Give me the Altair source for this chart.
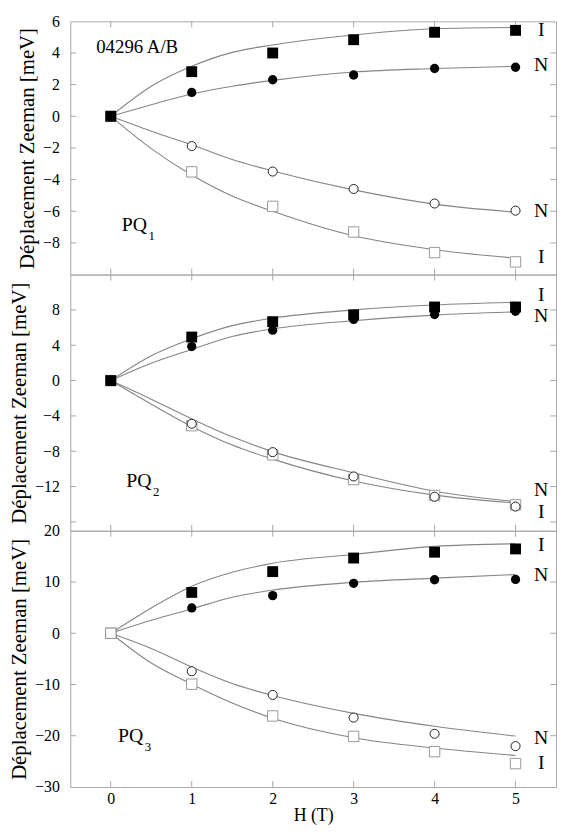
import altair as alt
import pandas as pd

# ---------------- data ----------------
H_POINTS = [0, 1, 2, 3, 4, 5]
H_FIT = [0, 0.5, 1, 1.5, 2, 3, 4, 5]

# PQ1
PQ1_I_UP = [0, 2.82, 4.0, 4.84, 5.31, 5.43]
PQ1_N_UP = [0, 1.51, 2.31, 2.61, 3.02, 3.1]
PQ1_N_DOWN = [0, -1.88, -3.49, -4.59, -5.51, -5.96]
PQ1_I_DOWN = [0, -3.51, -5.69, -7.31, -8.61, -9.2]
PQ1_FIT_I_UP = [0, 1.9, 3.16, 4.04, 4.51, 5.14, 5.53, 5.61]
PQ1_FIT_N_UP = [0, 0.73, 1.41, 1.9, 2.27, 2.8, 3.02, 3.16]
PQ1_FIT_N_DOWN = [0, -0.94, -1.8, -2.73, -3.45, -4.65, -5.55, -6.06]
PQ1_FIT_I_DOWN = [0, -2.04, -3.71, -5.04, -6.0, -7.55, -8.43, -8.96]

# PQ2
PQ2_I_UP = [0, 4.93, 6.67, 7.44, 8.33, 8.33]
PQ2_N_UP = [0, 3.85, 5.7, 6.93, 7.48, 7.85]
PQ2_N_DOWN = [0, -4.89, -8.1, -10.85, -13.15, -14.26]
PQ2_I_DOWN = [0, -5.1, -8.4, -11.2, -13.0, -14.07]
PQ2_FIT_I_UP = [0, 2.81, 4.74, 6.22, 7.07, 8.0, 8.56, 8.85]
PQ2_FIT_N_UP = [0, 1.96, 3.52, 5.0, 5.85, 6.78, 7.41, 7.78]
PQ2_FIT_N_DOWN = [0, -2.11, -4.33, -6.37, -8.04, -10.44, -12.52, -13.7]
PQ2_FIT_I_DOWN = [0, -2.67, -5.19, -7.3, -8.89, -11.37, -12.96, -13.85]

# PQ3
PQ3_I_UP = [0, 7.97, 12.03, 14.68, 15.82, 16.46]
PQ3_N_UP = [0, 4.94, 7.34, 9.75, 10.44, 10.5]
PQ3_N_DOWN = [0, -7.41, -12.03, -16.46, -19.62, -22.03]
PQ3_I_DOWN = [0, -9.94, -16.14, -20.13, -23.1, -25.44]
PQ3_FIT_I_UP = [0, 4.94, 9.18, 11.9, 13.67, 15.38, 16.96, 17.47]
PQ3_FIT_N_UP = [0, 2.53, 4.75, 7.03, 8.42, 9.94, 10.76, 11.46]
PQ3_FIT_N_DOWN = [0, -2.97, -6.58, -9.81, -12.15, -15.63, -18.16, -20.06]
PQ3_FIT_I_DOWN = [0, -5.82, -9.94, -13.6, -16.58, -20.38, -22.4, -23.86]

# axes
X_DOMAIN = [-0.5, 5.5]
X_TICKS = [0, 1, 2, 3, 4, 5]
Y_DOMAINS = [[-10, 6], [-17, 12], [-30, 20]]
Y_LABELS = [[-8, -6, -4, -2, 0, 2, 4, 6], [-12, -8, -4, 0, 4, 8], [-30, -20, -10, 0, 10, 20]]
Y_TICKS = [[-8, -6, -4, -2, 0, 2, 4], [-16, -12, -8, -4, 0, 4, 8], [-20, -10, 0, 10]]

# side labels (text, value)
SIDE_TEXT = ["I", "N", "N", "I"]
SIDE_Y = [[5.43, 3.23, -5.96, -8.92], [9.71, 7.31, -12.44, -14.84], [17.3, 11.26, -20.4, -25.4]]

PANEL_NAMES = ["PQ", "PQ", "PQ"]
PANEL_SUBS = ["1", "2", "3"]
PANEL_LABEL_X = [0.135, 0.19, 0.09]
PANEL_LABEL_Y = [-6.86, -11.33, -20.07]
SAMPLE_TEXT = "04296 A/B"
SAMPLE_X = -0.18
SAMPLE_Y = 4.39

Y_TITLE = "Déplacement Zeeman [meV]"
X_TITLE = "H (T)"

FONT = "Times New Roman, Liberation Serif, serif"
W = 491
HEIGHTS = [256, 259, 259]
TICK_LEN = 6
FRAME = "#a8a8a8"
LINE = "#858585"


def make_panel(i, i_up, n_up, n_down, i_down, fits, bottom, order):
    h = HEIGHTS[i]
    xs = alt.Scale(domain=X_DOMAIN, nice=False, zero=False)
    ys = alt.Scale(domain=Y_DOMAINS[i], nice=False, zero=False)
    yaxis = alt.Axis(values=Y_LABELS[i], title=Y_TITLE, grid=False, ticks=False, domain=False,
                     labelFont=FONT, labelFontSize=16, labelColor="black", labelPadding=11,
                     titleFont=FONT, titleFontSize=21, titleFontWeight="normal",
                     titleColor="black", titlePadding=5, format="d")
    if bottom:
        xaxis = alt.Axis(values=X_TICKS, title=X_TITLE, grid=False, ticks=False, domain=False,
                         labelFont=FONT, labelFontSize=16, labelColor="black", labelPadding=4,
                         titleFont=FONT, titleFontSize=18, titleFontWeight="normal",
                         titleColor="black", titlePadding=0)
    else:
        xaxis = None

    def X():
        return alt.X("x:Q", scale=xs, axis=xaxis)

    def Y():
        return alt.Y("y:Q", scale=ys, axis=yaxis)

    layers = []
    ytick_df = pd.DataFrame({"x": [0] * len(Y_TICKS[i]), "y": Y_TICKS[i]})
    xtick_df = pd.DataFrame({"x": X_TICKS, "y": [Y_DOMAINS[i][0]] * len(X_TICKS)})
    layers.append(alt.Chart(ytick_df).mark_rule(color=FRAME, strokeWidth=1).encode(
        y=Y(), x=alt.value(0), x2=alt.value(TICK_LEN)))
    layers.append(alt.Chart(ytick_df).mark_rule(color=FRAME, strokeWidth=1).encode(
        y=Y(), x=alt.value(W - TICK_LEN), x2=alt.value(W)))
    layers.append(alt.Chart(xtick_df).mark_rule(color=FRAME, strokeWidth=1).encode(
        x=X(), y=alt.value(0), y2=alt.value(TICK_LEN)))
    layers.append(alt.Chart(xtick_df).mark_rule(color=FRAME, strokeWidth=1).encode(
        x=X(), y=alt.value(h - TICK_LEN), y2=alt.value(h)))

    # fit lines
    for f in fits:
        df = pd.DataFrame({"x": H_FIT, "y": f})
        layers.append(alt.Chart(df).mark_line(color=LINE, strokeWidth=1.1, interpolate="monotone").encode(
            x=X(), y=Y()))

    marks = {
        "I_up": (i_up, dict(shape="square", filled=True, size=121, color="black", opacity=1)),
        "N_up": (n_up, dict(shape="circle", filled=True, size=88, color="black", opacity=1)),
        "N_down": (n_down, dict(shape="circle", filled=True, size=84, fill="white", stroke="#222",
                                strokeWidth=1, opacity=1)),
        "I_down": (i_down, dict(shape="square", filled=True, size=110, fill="white", stroke="#999",
                                strokeWidth=1, opacity=1)),
    }
    for key in order:
        vals, style = marks[key]
        df = pd.DataFrame({"x": H_POINTS, "y": vals})
        layers.append(alt.Chart(df).mark_point(**style).encode(x=X(), y=Y()))

    # side labels
    side_df = pd.DataFrame({"x": [5] * 4, "y": SIDE_Y[i], "t": SIDE_TEXT})
    layers.append(alt.Chart(side_df).mark_text(font=FONT, fontSize=20, color="black", dx=26,
                                               align="center", baseline="middle").encode(
        x=X(), y=Y(), text="t:N"))

    # panel label
    pl_df = pd.DataFrame({"x": [PANEL_LABEL_X[i]], "y": [PANEL_LABEL_Y[i]],
                          "t": [PANEL_NAMES[i]], "s": [PANEL_SUBS[i]]})
    layers.append(alt.Chart(pl_df).mark_text(font=FONT, fontSize=20, color="black",
                                             align="left", baseline="middle").encode(
        x=X(), y=Y(), text="t:N"))
    layers.append(alt.Chart(pl_df).mark_text(font=FONT, fontSize=13, color="black", dx=27, dy=11,
                                             align="left", baseline="middle").encode(
        x=X(), y=Y(), text="s:N"))

    if i == 0:
        s_df = pd.DataFrame({"x": [SAMPLE_X], "y": [SAMPLE_Y], "t": [SAMPLE_TEXT]})
        layers.append(alt.Chart(s_df).mark_text(font=FONT, fontSize=19, color="black",
                                                align="left", baseline="middle").encode(
            x=X(), y=Y(), text="t:N"))

    return alt.layer(*layers).properties(width=W, height=h)


p1 = make_panel(0, PQ1_I_UP, PQ1_N_UP, PQ1_N_DOWN, PQ1_I_DOWN,
                [PQ1_FIT_I_UP, PQ1_FIT_N_UP, PQ1_FIT_N_DOWN, PQ1_FIT_I_DOWN], False,
                ["N_down", "I_down", "N_up", "I_up"])
p2 = make_panel(1, PQ2_I_UP, PQ2_N_UP, PQ2_N_DOWN, PQ2_I_DOWN,
                [PQ2_FIT_I_UP, PQ2_FIT_N_UP, PQ2_FIT_N_DOWN, PQ2_FIT_I_DOWN], False,
                ["I_down", "N_down", "I_up", "N_up"])
p3 = make_panel(2, PQ3_I_UP, PQ3_N_UP, PQ3_N_DOWN, PQ3_I_DOWN,
                [PQ3_FIT_I_UP, PQ3_FIT_N_UP, PQ3_FIT_N_DOWN, PQ3_FIT_I_DOWN], True,
                ["I_up", "N_up", "N_down", "I_down"])

chart = alt.vconcat(p1, p2, p3, spacing=0, bounds="flush").properties(
    padding={"left": 0, "top": 0, "right": 0, "bottom": 0},
    background="white",
).configure_view(
    stroke=FRAME, strokeWidth=1
).configure_axis(
    labelFont=FONT, titleFont=FONT, labelColor="black", titleColor="black",
    titleFontWeight="normal"
).configure_axisY(
    labelFont=FONT, titleFont=FONT
).configure_text(font=FONT)

chart.save("out.html", embed_options={"renderer": "svg", "actions": False})
